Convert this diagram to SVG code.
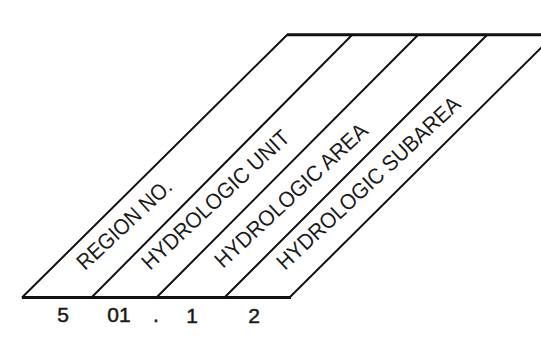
<svg xmlns="http://www.w3.org/2000/svg" width="541" height="359" viewBox="0 0 541 359">
<style>
.ln{stroke:#111;stroke-width:2;fill:none;stroke-linecap:round}
.edge{stroke:#111;stroke-width:3;fill:none}
.lbl{font-family:"Liberation Sans",Arial,sans-serif;font-size:22px;fill:#1a1a1a}
.num{font-family:"Liberation Sans",Arial,sans-serif;font-size:21px;fill:#1a1a1a;stroke:#1a1a1a;stroke-width:0.5;text-anchor:middle}
</style>
<rect width="541" height="359" fill="#fff"/>
<g id="connectors">
<line class="edge" x1="22" y1="297.5" x2="291" y2="297.5"/>
<line class="edge" x1="287" y1="34.7" x2="541" y2="34.7"/>
<line class="ln" x1="22.5" y1="297" x2="287" y2="35"/>
<line class="ln" x1="92" y1="297" x2="352" y2="35"/>
<line class="ln" x1="157" y1="297" x2="418" y2="35"/>
<line class="ln" x1="225" y1="297" x2="487" y2="35"/>
<line class="ln" x1="290" y1="297" x2="555" y2="34"/>
</g>
<g id="region-no">
<text class="lbl" x="85" y="271" transform="rotate(-43 85 271)" textLength="121" lengthAdjust="spacingAndGlyphs">REGION NO.</text>
<text class="num" x="63" y="322">5</text>
</g>
<g id="hydrologic-unit">
<text class="lbl" x="150" y="271" transform="rotate(-43 150 271)" textLength="193" lengthAdjust="spacingAndGlyphs">HYDROLOGIC UNIT</text>
<text class="num" x="119" y="322">01</text>
</g>
<g id="dot">
<text class="num" x="156" y="322">.</text>
</g>
<g id="hydrologic-area">
<text class="lbl" x="223" y="269" transform="rotate(-43 223 269)" textLength="200" lengthAdjust="spacingAndGlyphs">HYDROLOGIC AREA</text>
<text class="num" x="192" y="323">1</text>
</g>
<g id="hydrologic-subarea">
<text class="lbl" x="285" y="271" transform="rotate(-43 285 271)" textLength="242" lengthAdjust="spacingAndGlyphs">HYDROLOGIC SUBAREA</text>
<text class="num" x="254" y="323">2</text>
</g>
</svg>
